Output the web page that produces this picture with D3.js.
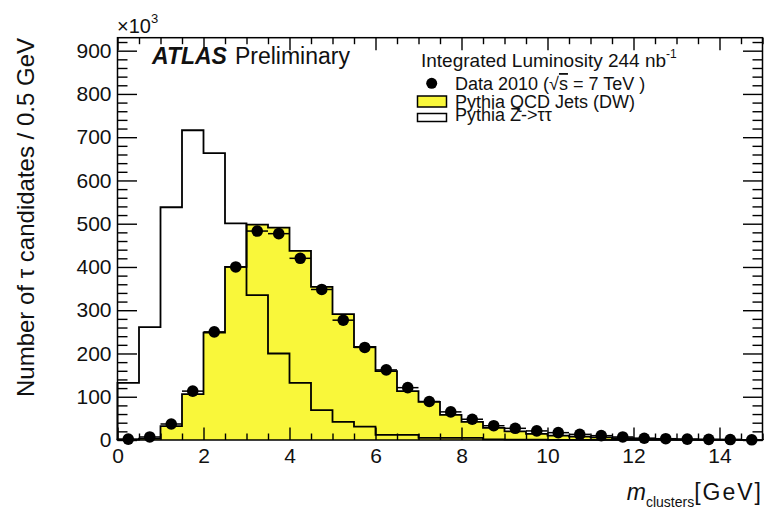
<!DOCTYPE html>
<html>
<head>
<meta charset="utf-8">
<script src="https://cdn.jsdelivr.net/npm/d3@7"></script>
<style>
  body { margin: 0; background: #fff; }
  text { font-family: "Liberation Sans", Arial, Helvetica, sans-serif; fill: #111; }
</style>
</head>
<body>
<script>
// bin lower edges, 0.5 GeV wide (values in units of 10^3)
var binLow = [0, 0.5, 1, 1.5, 2, 2.5, 3, 3.5, 4, 4.5, 5, 5.5, 6, 6.5, 7, 7.5,
              8, 8.5, 9, 9.5, 10, 10.5, 11, 11.5, 12, 12.5, 13, 13.5, 14, 14.5]
var binWidth = 0.5

var qcdJets = [1, 3, 32, 106, 248, 400, 498, 491, 437, 354, 291, 215, 159, 113, 88, 58,
               42, 28, 20, 14, 10, 8, 6, 4, 3, 2, 1.5, 1, 1, 0.5]
var zTauTau = [132, 261, 538, 716, 663, 501, 335, 200, 132, 69, 42, 31, 12, 12, 5, 5,
               5, 1.5, 1, 1, 0.5, 0.5, 0.3, 0.3, 0.2, 0.2, 0.1, 0.1, 0.1, 0.1]
var data2010 = [2, 7, 37, 113, 250, 400, 483, 477, 420, 348, 277, 214, 162, 121, 89, 65,
                48, 33, 27, 21, 17, 13, 10, 7, 4, 3, 2, 1.5, 1, 0.5]

var xMajor = [0, 2, 4, 6, 8, 10, 12, 14]
var yMajor = [0, 100, 200, 300, 400, 500, 600, 700, 800, 900]

var width = 766,
    height = 511
// note: "top" is a read-only window global, so use other names
var padL = 117.5, padR = 762.5, padT = 37.7, padB = 440

var svg = d3.select('body').append('svg')
    .attr('width', width)
    .attr('height', height)

var x = d3.scaleLinear().domain([0, 15]).range([padL, padR])
var y = d3.scaleLinear().domain([0, 930]).range([padB, padT])

// outline points for a step histogram, closed down to zero at both ends
function stepPoints(vals) {
    var pts = [[binLow[0], 0]]
    vals.forEach((v, i) => pts.push([binLow[i], v]))
    var end = binLow[binLow.length - 1] + binWidth
    pts.push([end, vals[vals.length - 1]])
    pts.push([end, 0])
    return pts
}

var stepLine = d3.line()
    .x(d => x(d[0]))
    .y(d => y(d[1]))
    .curve(d3.curveStepAfter)

var stepArea = d3.area()
    .x(d => x(d[0]))
    .y0(y(0))
    .y1(d => y(d[1]))
    .curve(d3.curveStepAfter)

var plot = svg.append('g')

// QCD jets, yellow filled
plot.append('path')
    .datum(stepPoints(qcdJets))
    .attr('d', stepArea)
    .attr('fill', '#f9f73a')
plot.append('path')
    .datum(stepPoints(qcdJets))
    .attr('d', stepLine)
    .attr('fill', 'none')
    .attr('stroke', '#000')
    .attr('stroke-width', 1.8)

// Z->tautau, open
plot.append('path')
    .datum(stepPoints(zTauTau))
    .attr('d', stepLine)
    .attr('fill', 'none')
    .attr('stroke', '#000')
    .attr('stroke-width', 1.8)

// data: horizontal bin-width bars + markers
plot.selectAll('line.xerr')
    .data(data2010).enter()
    .append('line')
    .attr('class', 'xerr')
    .attr('x1', (d, i) => x(binLow[i]))
    .attr('x2', (d, i) => x(binLow[i] + binWidth))
    .attr('y1', d => y(d))
    .attr('y2', d => y(d))
    .attr('stroke', '#000')
    .attr('stroke-width', 1.5)
plot.selectAll('circle.pt')
    .data(data2010).enter()
    .append('circle')
    .attr('class', 'pt')
    .attr('cx', (d, i) => x(binLow[i] + binWidth / 2))
    .attr('cy', d => y(d))
    .attr('r', 5.8)
    .attr('fill', '#000')

// frame
svg.append('rect')
    .attr('x', padL).attr('y', padT)
    .attr('width', padR - padL).attr('height', padB - padT)
    .attr('fill', 'none')
    .attr('stroke', '#000')
    .attr('stroke-width', 1.5)

var xMinor = d3.range(0, 15.01, 0.5).filter(v => xMajor.indexOf(v) < 0)
var yMinor = d3.range(0, 930, 20).filter(v => v % 100 !== 0)

function styleAxis(g) {
    g.select('.domain').remove()
    g.selectAll('line').attr('stroke', '#000').attr('stroke-width', 1.4)
    g.selectAll('text').attr('font-size', 21).attr('fill', '#111')
        .attr('font-family', '"Liberation Sans", Arial, sans-serif')
}

svg.append('g').attr('transform', `translate(0,${padB})`)
    .call(d3.axisBottom(x).tickValues(xMajor).tickSize(-12.5).tickPadding(8).tickFormat(d3.format('d')))
    .call(styleAxis)
svg.append('g').attr('transform', `translate(0,${padB})`)
    .call(d3.axisBottom(x).tickValues(xMinor).tickSize(-6.5).tickFormat(''))
    .call(styleAxis)
svg.append('g').attr('transform', `translate(0,${padT})`)
    .call(d3.axisTop(x).tickValues(xMajor).tickSize(-12.5).tickFormat(''))
    .call(styleAxis)
svg.append('g').attr('transform', `translate(0,${padT})`)
    .call(d3.axisTop(x).tickValues(xMinor).tickSize(-6.5).tickFormat(''))
    .call(styleAxis)

svg.append('g').attr('transform', `translate(${padL},0)`)
    .call(d3.axisLeft(y).tickValues(yMajor).tickSize(-19.5).tickPadding(6).tickFormat(d3.format('d')))
    .call(styleAxis)
svg.append('g').attr('transform', `translate(${padL},0)`)
    .call(d3.axisLeft(y).tickValues(yMinor).tickSize(-10).tickFormat(''))
    .call(styleAxis)
svg.append('g').attr('transform', `translate(${padR},0)`)
    .call(d3.axisRight(y).tickValues(yMajor).tickSize(-19.5).tickFormat(''))
    .call(styleAxis)
svg.append('g').attr('transform', `translate(${padR},0)`)
    .call(d3.axisRight(y).tickValues(yMinor).tickSize(-10).tickFormat(''))
    .call(styleAxis)

// x10^3 multiplier
var mult = svg.append('text').attr('x', 117).attr('y', 33).attr('font-size', 20)
mult.append('tspan').text('×10')
mult.append('tspan').attr('font-size', 13).attr('dy', -10).text('3')

// axis titles
svg.append('text')
    .attr('transform', 'translate(33.5,38) rotate(-90)')
    .attr('text-anchor', 'end')
    .attr('font-size', 24)
    .text('Number of τ candidates / 0.5 GeV')

var xt = svg.append('text').attr('x', 763).attr('y', 500).attr('text-anchor', 'end').attr('font-size', 23)
xt.append('tspan').attr('font-style', 'italic').text('m')
xt.append('tspan').attr('font-size', 14).attr('dy', 7).text('clusters')
xt.append('tspan').attr('dy', -7).attr('letter-spacing', 2).text('[GeV]')

// ATLAS label
var atlas = svg.append('text').attr('x', 152).attr('y', 64).attr('font-size', 23)
atlas.append('tspan').attr('font-weight', 'bold').attr('font-style', 'italic').text('ATLAS')
atlas.append('tspan').attr('dx', 8).text('Preliminary')

// legend
var lum = svg.append('text').attr('x', 421).attr('y', 67).attr('font-size', 19)
lum.append('tspan').text('Integrated Luminosity 244 nb')
lum.append('tspan').attr('font-size', 12).attr('dy', -9).text('-1')

svg.append('circle').attr('cx', 431.7).attr('cy', 83.3).attr('r', 5.5).attr('fill', '#000')
var dl = svg.append('text').attr('x', 455).attr('y', 90).attr('font-size', 18)
dl.append('tspan').text('Data 2010 (√')
dl.append('tspan').style('text-decoration', 'overline').text('s')
dl.append('tspan').text(' = 7 TeV )')

svg.append('rect').attr('x', 417.5).attr('y', 96).attr('width', 29).attr('height', 11)
    .attr('fill', '#f9f73a').attr('stroke', '#000').attr('stroke-width', 1.5)
svg.append('text').attr('x', 455).attr('y', 107.5).attr('font-size', 18).text('Pythia QCD Jets (DW)')

svg.append('rect').attr('x', 417.5).attr('y', 113.5).attr('width', 29).attr('height', 8)
    .attr('fill', '#fff').attr('stroke', '#000').attr('stroke-width', 1.5)
svg.append('text').attr('x', 455).attr('y', 121).attr('font-size', 18).text('Pythia Z->ττ')
</script>
</body>
</html>
